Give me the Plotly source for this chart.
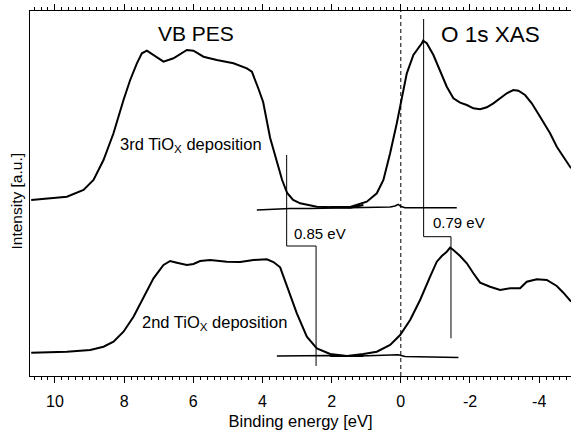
import plotly.graph_objects as go

# ---- data (binding energy [eV], intensity [a.u.]) ----
vb3_e = [10.685, 9.653, 9.173, 8.884, 8.595, 8.306, 8.017, 7.824, 7.630, 7.486, 7.341, 7.150,
         6.861, 6.572, 6.185, 5.994, 5.705, 5.318, 4.838, 4.451, 4.306, 4.124, 3.980, 3.777,
         3.575, 3.431, 3.286, 3.113, 2.910, 2.428, 1.465, 1.081]
vb3_i = [176, 179.3, 186, 196, 216, 242.7, 276, 296, 312.7, 322.7, 325.3, 321,
         314.3, 317.7, 326, 325.3, 319.3, 316, 312.7, 307.7, 304.3, 288, 274, 238,
         212, 196, 183, 176, 172.7, 169.3, 168.3, 171]

xas3_e = [2.043, 1.465, 0.983, 0.694, 0.503, 0.309, 0.116, -0.029, -0.173, -0.364, -0.509,
          -0.607, -0.645, -0.751, -0.942, -1.136, -1.329, -1.520, -1.714, -1.908, -2.098,
          -2.292, -2.486, -2.676, -2.870, -3.064, -3.254, -3.399, -3.592, -3.786, -4.026,
          -4.315, -4.509, -4.699, -4.922]
xas3_i = [169, 169, 174.3, 182.7, 196, 222.7, 252.7, 279.3, 302.7, 321, 327.7,
          332.7, 335.3, 332.7, 321, 306, 289.3, 277.7, 273.3, 271, 267.7,
          266.7, 268.7, 272.7, 277.7, 282.7, 286, 285.3, 281, 272.7, 259.3,
          242.7, 229.3, 219.3, 207.7]

base3_e = [4.162, 3.777, 3.199, 2.621, 1.754, 0.887, 0.309, 0.165, 0.078, -0.009, -0.124, -0.847, -1.618]
base3_i = [166, 166.5, 167.5, 167.5, 168, 168.5, 169, 170, 171.7, 169.5, 168.2, 168.2, 168.3]

vb2_e = [10.685, 9.653, 8.980, 8.595, 8.306, 8.017, 7.728, 7.439, 7.150, 6.861, 6.668, 6.474,
         6.185, 5.994, 5.801, 5.512, 5.029, 4.645, 4.260, 3.873, 3.682, 3.488, 3.295, 3.006,
         2.717, 2.428, 2.043, 1.561, 1.081]
vb2_i = [23.3, 24.3, 26, 29.3, 34.3, 44.3, 59.3, 79.3, 97.7, 111, 115, 113.3,
         111, 112, 115, 116, 114.3, 114, 116, 116.7, 114, 108.7, 91, 62.7,
         39.3, 27.7, 22, 20, 20]

xas2_e = [2.043, 1.561, 1.081, 0.694, 0.309, 0.020, -0.269, -0.558, -0.847, -1.040, -1.185,
          -1.329, -1.425, -1.520, -1.714, -1.908, -2.098, -2.292, -2.581, -2.870, -3.159,
          -3.448, -3.642, -3.931, -4.220, -4.509, -4.699, -4.922]
xas2_i = [20, 20, 22, 24.3, 31, 41, 56, 76, 99.3, 114.3, 120,
          124.3, 128.3, 126, 120, 112.7, 102.7, 93.3, 89.3, 86, 87.7,
          87.7, 94.3, 96.7, 96, 90, 83.3, 74.3]

base2_e = [3.584, 2.910, 2.043, 1.176, 0.454, 0.078, -0.124, -0.847, -1.665]
base2_i = [20, 20.3, 20.5, 20, 20.5, 21.2, 19.5, 19, 18.5]

# onset / peak markers (energy gaps)
gap_vb_e = [3.30, 3.30, 2.45, 2.45]
gap_vb_i = [221, 130, 130, 10]
gap_xas_e = [-0.66, -0.66, -1.45, -1.45]
gap_xas_i = [357, 139.3, 139.3, 37.7]

fermi_e = [0, 0]
fermi_i = [0, 365]

x_tickvals = [10, 8, 6, 4, 2, 0, -2, -4]
x_ticktext = ["10", "8", "6", "4", "2", "0", "-2", "-4"]

labels = [
    ("VB PES", 5.92, 342.5, 21, "center"),
    ("O 1s XAS", -2.58, 341.8, 22.5, "center"),
    ("3rd TiO<sub>X</sub> deposition", 6.075, 231, 16.5, "center"),
    ("2nd TiO<sub>X</sub> deposition", 5.39, 52.7, 16.5, "center"),
    ("0.85 eV", 3.15, 142.7, 15, "left"),
    ("0.79 eV", -0.876, 153.7, 15, "left"),
]

FONT = "Liberation Sans, Arial, Helvetica, sans-serif"
XRANGE = [10.72, -4.92]

fig = go.Figure()
for e, i, w in [(vb3_e, vb3_i, 2), (xas3_e, xas3_i, 2), (base3_e, base3_i, 1.5),
                (vb2_e, vb2_i, 2), (xas2_e, xas2_i, 2), (base2_e, base2_i, 1.5),
                (gap_vb_e, gap_vb_i, 1), (gap_xas_e, gap_xas_i, 1)]:
    fig.add_trace(go.Scatter(x=e, y=i, mode="lines", line=dict(color="black", width=w),
                             showlegend=False, hoverinfo="skip"))

# Fermi level (drawn on the top axis, which shares the same scale)
fig.add_trace(go.Scatter(x=fermi_e, y=fermi_i, mode="lines", xaxis="x2",
                         line=dict(color="black", width=1, dash="4px,3px"),
                         showlegend=False, hoverinfo="skip"))

for text, x, y, size, anchor in labels:
    fig.add_annotation(x=x, y=y, text=text, showarrow=False, xanchor=anchor, yanchor="middle",
                       font=dict(size=size, color="black", family=FONT))

# y-axis title
fig.add_annotation(xref="paper", yref="paper", x=-0.0246, y=0.48, text="Intensity [a.u.]",
                   textangle=-90, showarrow=False, xanchor="center", yanchor="middle",
                   font=dict(size=15.5, color="black", family=FONT))

common_x = dict(range=XRANGE, tickmode="array", tickvals=x_tickvals,
                ticks="outside", ticklen=6, tickwidth=1, tickcolor="black",
                showline=True, linecolor="black", linewidth=1,
                showgrid=False, zeroline=False, automargin=False,
                minor=dict(tickmode="linear", dtick=0.2, tick0=0, ticks="outside", ticklen=3,
                           tickwidth=1, tickcolor="black", showgrid=False))

fig.update_layout(
    width=571, height=437,
    margin=dict(l=30, r=0, t=11, b=61),
    paper_bgcolor="white", plot_bgcolor="white",
    font=dict(family=FONT, size=15, color="black"),
    hovermode=False,
    xaxis=dict(**common_x, ticktext=x_ticktext, ticklabelstandoff=5,
               title=dict(text="Binding energy [eV]", standoff=6, font=dict(size=16.5)),
               tickfont=dict(size=16)),
    xaxis2=dict(**common_x, overlaying="x", side="top", anchor="y", showticklabels=False),
    yaxis=dict(range=[0, 365], showticklabels=False, ticks="", showline=True, linecolor="black",
               linewidth=1, showgrid=False, zeroline=False, automargin=False),
)

fig.write_html("out.html", config={"displayModeBar": False, "staticPlot": True},
               post_script="document.body.style.margin='0';document.body.style.overflow='hidden';")
